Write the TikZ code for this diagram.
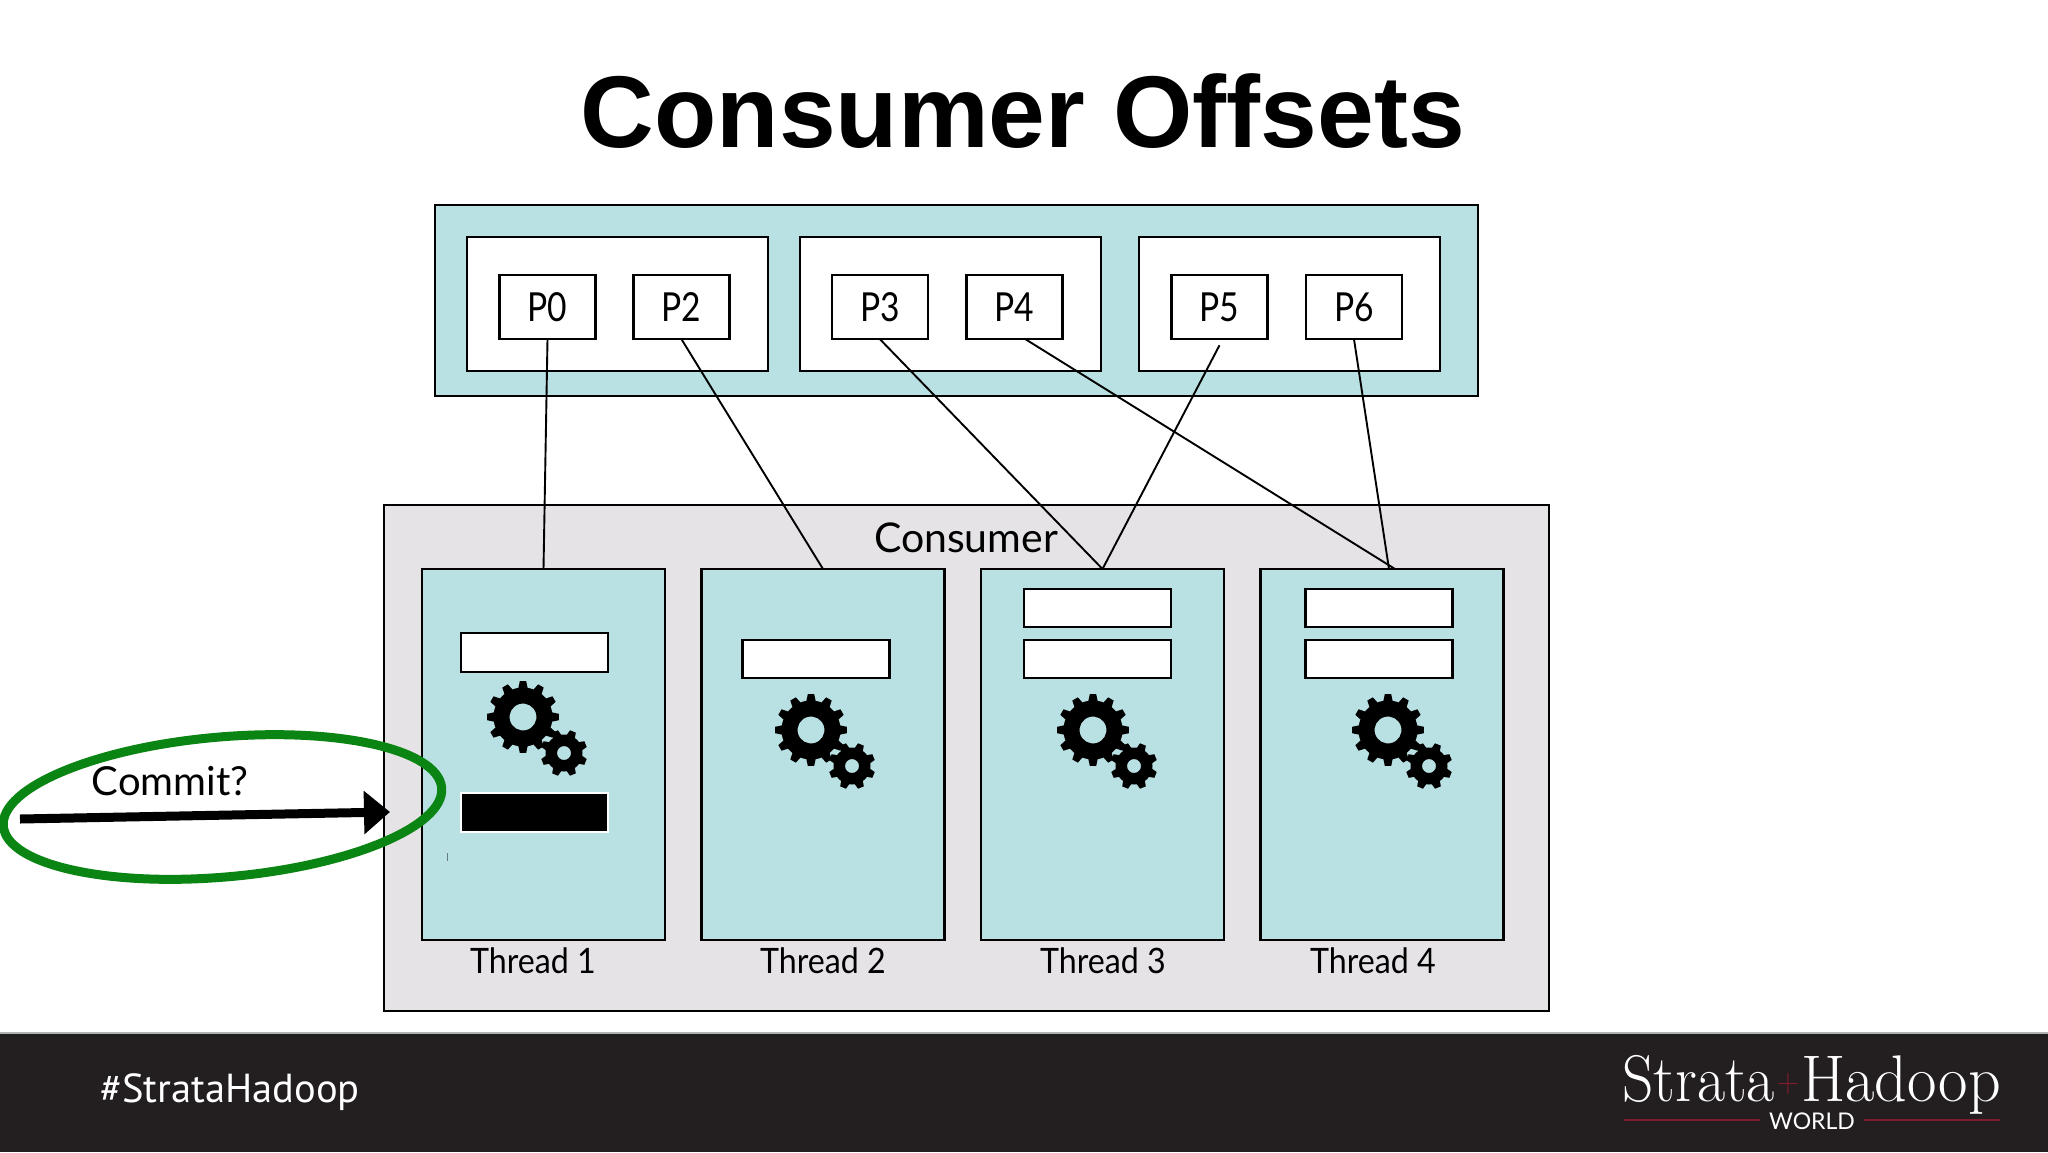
\documentclass[tikz,border=0pt]{standalone}
\usepackage{fontspec}
\setmainfont{Lato}
\newfontfamily\pfont{Lato}[FakeStretch=0.84]
\newfontfamily\threadfont{Lato}[FakeStretch=0.92]
\newfontfamily\titlefont{Liberation Sans}
\newfontfamily\logofont{Latin Modern Roman}[FakeStretch=0.93]
\newfontfamily\logofontb{Latin Modern Roman}[FakeStretch=0.97]
\newfontfamily\tagfont{PT Sans}
\usetikzlibrary{arrows.meta,shapes.geometric}
\definecolor{tealbg}{HTML}{B9E0E3}
\definecolor{greybg}{HTML}{E5E3E6}
\definecolor{footbg}{HTML}{231F20}
\definecolor{ringgreen}{HTML}{0A8412}
\definecolor{logored}{HTML}{7E1B2C}
\newcommand{\fsz}[1]{\fontsize{#1}{#1}\selectfont}
\newcommand{\gearshape}[4]{%
  \fill[black,even odd rule]
    (0:#3pt)
    \foreach \i in {1,...,#1}{
      -- ({(\i-1)*360/#1+0.20*360/#1}:#3pt)
      -- ({(\i-1)*360/#1+0.33*360/#1}:#2pt)
      -- ({(\i-1)*360/#1+0.67*360/#1}:#2pt)
      -- ({(\i-1)*360/#1+0.80*360/#1}:#3pt)
      -- ({\i*360/#1}:#3pt)
    } -- cycle
    (0,0) circle (#4pt);%
}
\tikzset{
  x=1pt,y=-1pt,
  box/.style={draw=black,line width=2.2pt,inner sep=0pt,outer sep=0pt,rectangle},
  tealbox/.style={box,fill=tealbg},
  whitebox/.style={box,fill=white},
  link/.style={draw=black,line width=1.9pt},
  label/.style={inner sep=0pt,font=\fsz{35}},
  gears/.pic={
    \begin{scope}[rotate=15]\gearshape{12}{36}{29.5}{13.5}\end{scope}
    \begin{scope}[shift={(41,36)}]\gearshape{8}{23.5}{18.5}{7}\end{scope}
  }
}
\begin{document}
\begin{tikzpicture}
\useasboundingbox (0,0) rectangle (2048,1152);
\fill[white] (0,0) rectangle (2048,1152);
% footer
\fill[footbg] (0,1033) rectangle (2048,1152);
\coordinate (fa) at (0,1033); \coordinate (fb) at (2048,1033);
\draw[black!30,line width=1.5pt] (fa) -- (fb);
\node[inner sep=0pt,text=white,font=\tagfont\fsz{40.5}] (tag) at (230,1092) {\#StrataHadoop};
\node[inner sep=0pt,anchor=base west,text=white,font=\logofont\fsz{66}] (strata) at (1622,1101) {Strata};
\node[inner sep=0pt,anchor=base,text=logored,font=\logofont\fsz{34}] (plus) at (1788,1092) {+};
\node[inner sep=0pt,anchor=base east,text=white,font=\logofontb\fsz{66}] (hadoop) at (2001,1101) {Hadoop};
\node[inner sep=0pt,text=white,font=\fsz{23}] (world) at (1812,1121) {WORLD};
\coordinate (la) at (1624,1120); \coordinate (lb) at (1760,1120);
\coordinate (ra) at (1864,1120); \coordinate (rb) at (2000,1120);
\draw[logored,line width=1.5pt] (la) -- (lb) (ra) -- (rb);
% title
\node[inner sep=0pt,font=\titlefont\bfseries\fsz{102}] (title) at (1023,111) {Consumer Offsets};
% partitions block
\node[tealbox,minimum width=1043pt,minimum height=191pt] (top) at (956.5,300.5) {};
\node[whitebox,minimum width=301pt,minimum height=134pt] (g1) at (617.5,304) {};
\node[whitebox,minimum width=301pt,minimum height=134pt] (g2) at (950.5,304) {};
\node[whitebox,minimum width=301pt,minimum height=134pt] (g3) at (1289.5,304) {};
\foreach \n/\xx in {P0/547.5,P2/681.5,P3/880,P4/1014.5,P5/1219.5,P6/1354}{
  \node[whitebox,label,font=\pfont\fsz{40},minimum width=96pt,minimum height=64.5pt] (\n) at (\xx,307) {\n};
}
% consumer block
\node[box,fill=greybg,minimum width=1165pt,minimum height=506pt] (consumer) at (966.5,758) {};
\node[label,font=\fsz{41}] (consumerlabel) at (966,538) {Consumer};
\foreach \n/\xx in {T1/543.5,T2/823,T3/1102.5,T4/1382}{
  \node[tealbox,minimum width=243pt,minimum height=371pt] (\n) at (\xx,754.5) {};
}
\tikzset{threadlabel/.style={inner sep=0pt,font=\threadfont\fsz{35}}}
\node[threadlabel] (l1) at (533,961) {Thread 1};
\node[threadlabel] (l2) at (823,961) {Thread 2};
\node[threadlabel] (l3) at (1103,961) {Thread 3};
\node[threadlabel] (l4) at (1373,961) {Thread 4};
% message boxes
\tikzset{msg/.style={whitebox,minimum width=147pt,minimum height=38.5pt}}
\node[msg] (m1) at (534.5,652.5) {};
\node[msg] (m2) at (816,659) {};
\node[msg] (m3a) at (1097.5,608) {};
\node[msg] (m3b) at (1097.5,659) {};
\node[msg] (m4a) at (1379,608) {};
\node[msg] (m4b) at (1379,659) {};
\node[draw=white,fill=black,line width=2pt,inner sep=0pt,minimum width=147pt,minimum height=39pt] (m1b) at (534.5,812.5) {};
% gears
\pic at (523,717) {gears};
\pic at (811,730) {gears};
\pic at (1093,730) {gears};
\pic at (1388,730) {gears};
% stray tick
\coordinate (ta) at (447,853); \coordinate (tb) at (447,861);
\draw[black!45!tealbg,line width=1pt] (ta) -- (tb);
% connectors
\draw[link] (P0.south) -- (T1.north);
\draw[link] (P2.south) -- (T2.north);
\draw[link] (P3.south) -- (T3.north);
\draw[link] ([yshift=-6pt]P5.south) -- (T3.north);
\draw[link] ([xshift=11pt]P4.south) -- ([xshift=13pt]T4.north);
\draw[link] (P6.south) -- ([xshift=7pt]T4.north);
% commit
\node[label,font=\fsz{40}] (commit) at (170,781) {Commit?};
\coordinate (cs) at (20,819); \coordinate (ce) at (390,812);
\draw[black,line width=9pt,-{Triangle[length=26pt,width=42pt]}] (cs) -- (ce);
\node[draw=ringgreen,line width=9pt,ellipse,inner sep=0pt,minimum width=440pt,minimum height=140pt,rotate=5] (ring) at (222.5,807) {};
\end{tikzpicture}
\end{document}
